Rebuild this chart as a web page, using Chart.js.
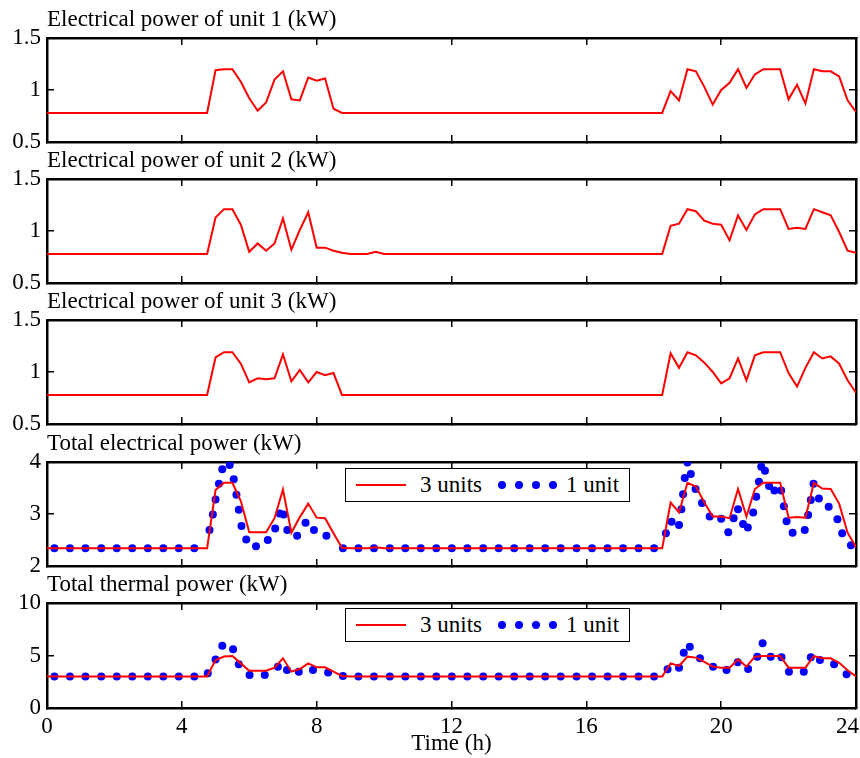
<!DOCTYPE html>
<html>
<head>
<meta charset="utf-8">
<script src="https://cdn.jsdelivr.net/npm/chart.js@4.4.1/dist/chart.umd.min.js"></script>
<style>
  body { margin: 0; background: #fff; }
  #wrap { position: relative; width: 860px; height: 758px; overflow: hidden; font-family: "Liberation Serif", "Times New Roman", serif; }
  #wrap canvas { position: absolute; left: 0; }
  .legend { position: absolute; left: 345px; width: 283px; height: 32px; border: 1.5px solid #000; background: #fff; z-index: 5; }
  .legend .ln { position: absolute; left: 10px; top: 15px; width: 50px; height: 2px; background: #ff0000; }
  .legend .dot { position: absolute; top: 12px; width: 8px; height: 8px; border-radius: 50%; background: #0000ff; }
  .legend .tx { position: absolute; top: 2px; font-size: 23px; line-height: 27px; color: #000; white-space: nowrap; }
</style>
</head>
<body>
<div id="wrap">
  <canvas id="p1" width="860" height="160" style="top:0px"></canvas>
  <canvas id="p2" width="860" height="160" style="top:141px"></canvas>
  <canvas id="p3" width="860" height="160" style="top:282px"></canvas>
  <canvas id="p4" width="860" height="160" style="top:424px"></canvas>
  <canvas id="p5" width="860" height="193" style="top:565px"></canvas>

  <div class="legend" style="top:468px">
    <span class="ln"></span><span class="tx" style="left:74px">3 units</span>
    <span class="dot" style="left:152px"></span><span class="dot" style="left:169px"></span>
    <span class="dot" style="left:186px"></span><span class="dot" style="left:203px"></span>
    <span class="tx" style="left:220px">1 unit</span>
  </div>
  <div class="legend" style="top:608px">
    <span class="ln"></span><span class="tx" style="left:74px">3 units</span>
    <span class="dot" style="left:152px"></span><span class="dot" style="left:169px"></span>
    <span class="dot" style="left:186px"></span><span class="dot" style="left:203px"></span>
    <span class="tx" style="left:220px">1 unit</span>
  </div>
</div>

<script>
// time (h) of each vertex of the 15-min "3 units" curves
const unitTimes = [0, 4.75, 5, 5.25, 5.5, 5.75, 6, 6.25, 6.5, 6.75, 7, 7.25, 7.5, 7.75, 8, 8.25, 8.5, 8.75,
  9, 9.5, 9.75, 10, 18.25, 18.5, 18.75, 19, 19.25, 19.5, 19.75, 20, 20.25, 20.5, 20.75, 21, 21.25, 21.5,
  21.75, 22, 22.25, 22.5, 22.75, 23, 23.25, 23.5, 23.75, 24];

const unit1Power = [0.78, 0.78, 1.19, 1.20, 1.20, 1.08, 0.92, 0.80, 0.88, 1.10, 1.18, 0.91, 0.90, 1.12, 1.09, 1.11, 0.82, 0.78,
  0.78, 0.78, 0.78, 0.78, 0.78, 0.99, 0.90, 1.20, 1.18, 1.03, 0.86, 1.00, 1.07, 1.20, 1.02, 1.15, 1.20, 1.20,
  1.20, 0.91, 1.05, 0.87, 1.20, 1.18, 1.18, 1.13, 0.90, 0.79];

const unit2Power = [0.78, 0.78, 1.13, 1.21, 1.21, 1.06, 0.80, 0.88, 0.81, 0.88, 1.12, 0.82, 1.01, 1.18, 0.84, 0.84, 0.81, 0.79,
  0.78, 0.78, 0.80, 0.78, 0.78, 1.05, 1.07, 1.21, 1.19, 1.10, 1.07, 1.06, 0.91, 1.15, 1.01, 1.16, 1.21, 1.21,
  1.21, 1.02, 1.03, 1.02, 1.21, 1.18, 1.15, 0.99, 0.81, 0.79];

const unit3Power = [0.78, 0.78, 1.14, 1.19, 1.19, 1.08, 0.90, 0.94, 0.93, 0.94, 1.17, 0.91, 1.02, 0.90, 1.00, 0.97, 0.99, 0.78,
  0.78, 0.78, 0.78, 0.78, 0.78, 1.18, 1.04, 1.19, 1.16, 1.09, 1.00, 0.89, 0.94, 1.13, 0.92, 1.16, 1.19, 1.19,
  1.19, 0.99, 0.86, 1.04, 1.19, 1.13, 1.15, 1.08, 0.92, 0.80];

const totalPower3 = [2.34, 2.34, 3.46, 3.60, 3.60, 3.25, 2.65, 2.65, 2.65, 2.92, 3.47, 2.64, 2.94, 3.20, 2.93, 2.92, 2.63, 2.35,
  2.34, 2.34, 2.36, 2.34, 2.34, 3.22, 3.03, 3.60, 3.53, 3.22, 2.95, 2.95, 2.92, 3.48, 2.95, 3.48, 3.60, 3.60,
  3.60, 2.93, 2.94, 2.93, 3.60, 3.49, 3.48, 3.20, 2.64, 2.36];

const totalHeat3 = [3.0, 3.0, 4.57, 4.90, 4.95, 4.25, 3.55, 3.55, 3.55, 3.84, 4.73, 3.46, 3.71, 4.25, 3.87, 3.87, 3.46, 3.05,
  3.0, 3.0, 3.02, 3.0, 3.0, 4.25, 4.00, 4.89, 4.80, 4.40, 3.94, 3.84, 3.84, 4.63, 3.94, 4.89, 4.95, 4.95,
  4.95, 3.84, 3.84, 3.84, 4.95, 4.73, 4.73, 4.30, 3.60, 3.0];

// "1 unit" samples (variable time step)
const oneUnitPowerTimes = [0.22, 0.68, 1.14, 1.61, 2.07, 2.53, 2.99, 3.45, 3.91, 4.37,
  4.82, 4.92, 5.00, 5.10, 5.20, 5.42, 5.54, 5.62, 5.69, 5.77, 5.91, 6.20, 6.55, 6.77, 6.90, 7.02, 7.13,
  7.42, 7.67, 7.92, 8.29, 8.78, 9.24, 9.70, 10.17, 10.63, 11.09, 11.55, 12.01, 12.47, 12.94, 13.40, 13.86,
  14.32, 14.78, 15.24, 15.71, 16.17, 16.63, 17.09, 17.55, 18.01, 18.36, 18.53, 18.75, 18.82, 18.87, 18.92,
  19.00, 19.10, 19.24, 19.43, 19.66, 20.00, 20.21, 20.37, 20.50, 20.65, 20.79, 20.95, 21.04, 21.12, 21.19,
  21.30, 21.42, 21.58, 21.78, 21.86, 21.94, 22.12, 22.48, 22.58, 22.66, 22.74, 22.90, 23.19, 23.45, 23.59, 23.85];
const oneUnitPower = [2.34, 2.34, 2.34, 2.34, 2.34, 2.34, 2.34, 2.34, 2.34, 2.34,
  2.69, 2.99, 3.28, 3.58, 3.86, 3.94, 3.67, 3.37, 3.08, 2.77, 2.51, 2.38, 2.50, 2.72, 3.01, 2.99, 2.69,
  2.58, 2.83, 2.69, 2.58, 2.34, 2.34, 2.34, 2.34, 2.34, 2.34, 2.34, 2.34, 2.34, 2.34, 2.34, 2.34,
  2.34, 2.34, 2.34, 2.34, 2.34, 2.34, 2.34, 2.34, 2.34, 2.63, 2.85, 2.79, 3.09, 3.38, 3.69,
  3.99, 3.77, 3.48, 3.21, 2.95, 2.91, 2.65, 2.92, 3.09, 2.81, 2.74, 3.03, 3.33, 3.62, 3.91,
  3.83, 3.54, 3.45, 3.45, 3.15, 2.86, 2.64, 2.69, 2.98, 3.27, 3.58, 3.30, 3.14, 2.90, 2.63, 2.40];

const oneUnitHeatTimes = [0.22, 0.68, 1.14, 1.61, 2.07, 2.53, 2.99, 3.45, 3.91, 4.37,
  4.77, 5.00, 5.20, 5.52, 5.69, 6.01, 6.46, 6.85, 7.12, 7.47, 7.89, 8.34, 8.78, 9.24, 9.70, 10.17,
  10.63, 11.09, 11.55, 12.01, 12.47, 12.94, 13.40, 13.86, 14.32, 14.78, 15.24, 15.71, 16.17, 16.63, 17.09,
  17.55, 18.01, 18.41, 18.75, 18.89, 19.07, 19.37, 19.76, 20.16, 20.49, 20.80, 21.07, 21.23, 21.47, 21.79,
  22.01, 22.45, 22.66, 22.93, 23.35, 23.72];
const oneUnitHeat = [3.0, 3.0, 3.0, 3.0, 3.0, 3.0, 3.0, 3.0, 3.0, 3.0,
  3.30, 4.63, 5.94, 5.59, 4.16, 3.14, 3.14, 3.94, 3.62, 3.46, 3.62, 3.37, 3.05, 3.0, 3.0, 3.0,
  3.0, 3.0, 3.0, 3.0, 3.0, 3.0, 3.0, 3.0, 3.0, 3.0, 3.0, 3.0, 3.0, 3.0, 3.0,
  3.0, 3.0, 3.68, 3.84, 5.27, 5.84, 4.73, 3.94, 3.62, 4.35, 3.71, 4.89, 6.16, 4.89, 4.83,
  3.46, 3.46, 4.83, 4.57, 4.16, 3.21];

const panelTitles = [
  'Electrical power of unit 1 (kW)',
  'Electrical power of unit 2 (kW)',
  'Electrical power of unit 3 (kW)',
  'Total electrical power (kW)',
  'Total thermal power (kW)'
];
const yRanges = [[0.5, 1.5, 0.5], [0.5, 1.5, 0.5], [0.5, 1.5, 0.5], [2, 4, 1], [0, 10, 5]];

const FONT = '"Liberation Serif", "Times New Roman", serif';
Chart.defaults.font.family = FONT;
Chart.defaults.font.size = 23;
Chart.defaults.color = '#000';

const toXY = (xs, ys) => xs.map((x, i) => ({ x: x, y: ys[i] }));

const panelTitle = {
  id: 'panelTitle',
  afterDraw(chart, args, opts) {
    const ctx = chart.ctx;
    ctx.save();
    ctx.font = '23px ' + FONT;
    ctx.fillStyle = '#000';
    ctx.textBaseline = 'alphabetic';
    ctx.fillText(opts.text, chart.chartArea.left, chart.chartArea.top - 12);
    ctx.restore();
  }
};

function lineSet(xs, ys) {
  return { type: 'line', data: toXY(xs, ys), borderColor: '#ff0000', borderWidth: 2,
           pointRadius: 0, tension: 0, fill: false };
}
function dotSet(xs, ys) {
  return { type: 'scatter', data: toXY(xs, ys), showLine: false, pointRadius: 4,
           pointBackgroundColor: '#0000ff', pointBorderWidth: 0, borderColor: '#0000ff' };
}

// fixed axis box size, ignore label overflow so all panels share one plot area
function fixSize(prop, size) {
  return s => {
    s[prop] = size;
    s.paddingTop = s.paddingBottom = s.paddingLeft = s.paddingRight = 0;
  };
}

function makePanel(idx, datasets, isLast) {
  const canvas = document.getElementById('p' + (idx + 1));
  const bottomH = canvas.height - 38 - (isLast ? 105 : 104);
  const [yMin, yMax, yStep] = yRanges[idx];
  const tickGrid = { drawOnChartArea: false, drawTicks: true, tickLength: -7, color: '#000', lineWidth: 1.5 };
  const frame = { display: true, color: '#000', width: 2.5 };

  new Chart(canvas, {
    type: 'line',
    data: { datasets: datasets },
    options: {
      responsive: false,
      animation: false,
      events: [],
      layout: { padding: 0, autoPadding: false },
      scales: {
        x: {
          type: 'linear', position: 'bottom', min: 0, max: 24,
          grid: tickGrid, border: frame,
          // last label pulled left (trailing spaces) so it stays inside the page
          ticks: { display: isLast, stepSize: 4, padding: 12, maxRotation: 0,
                   callback: v => v === 24 ? '24\u2002 ' : String(v) },
          title: { display: isLast, text: 'Time (h)', padding: 0 },
          afterFit: fixSize('height', bottomH)
        },
        x2: {
          type: 'linear', position: 'top', min: 0, max: 24,
          grid: tickGrid, border: frame,
          ticks: { display: false, stepSize: 4 },
          afterFit: fixSize('height', 38)
        },
        y: {
          type: 'linear', position: 'left', min: yMin, max: yMax,
          grid: tickGrid, border: frame,
          ticks: { stepSize: yStep, padding: 13, callback: v => String(v) },
          afterFit: fixSize('width', 47)
        },
        y2: {
          type: 'linear', position: 'right', min: yMin, max: yMax,
          grid: tickGrid, border: frame,
          ticks: { display: false, stepSize: yStep },
          afterFit: fixSize('width', 4)
        }
      },
      plugins: {
        legend: { display: false },
        tooltip: { enabled: false },
        panelTitle: { text: panelTitles[idx] }
      }
    },
    plugins: [panelTitle]
  });
}

makePanel(0, [lineSet(unitTimes, unit1Power)], false);
makePanel(1, [lineSet(unitTimes, unit2Power)], false);
makePanel(2, [lineSet(unitTimes, unit3Power)], false);
makePanel(3, [lineSet(unitTimes, totalPower3), dotSet(oneUnitPowerTimes, oneUnitPower)], false);
makePanel(4, [lineSet(unitTimes, totalHeat3), dotSet(oneUnitHeatTimes, oneUnitHeat)], true);
</script>
</body>
</html>
